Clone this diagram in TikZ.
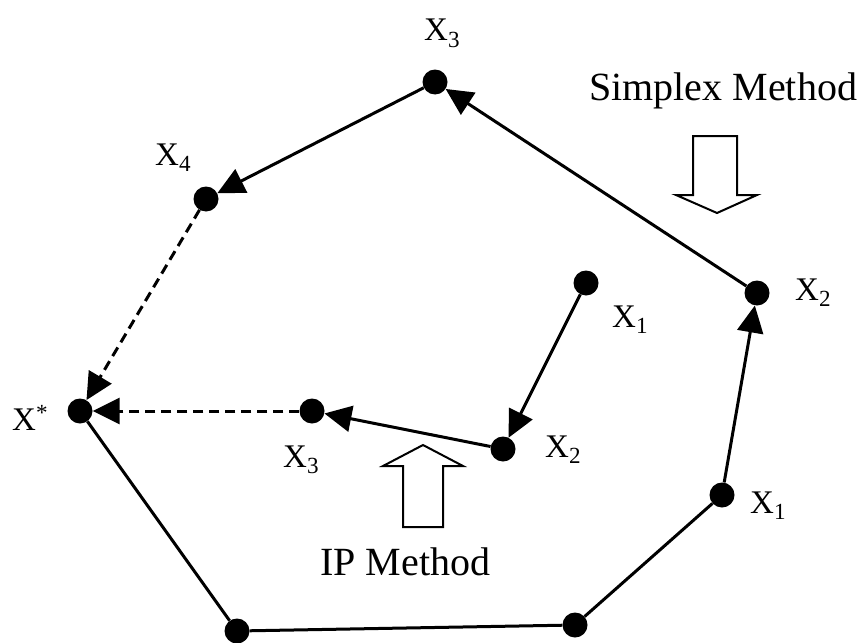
\documentclass[tikz,border=0pt]{standalone}
\usepackage{fontspec}
\setmainfont{Liberation Serif}
\usetikzlibrary{arrows.meta}
\tikzset{
  dot/.style={circle,fill=black,inner sep=0pt,minimum size=25pt},
  lbl/.style={anchor=base west,inner sep=0pt,font=\fontsize{33}{36}\selectfont},
  big/.style={anchor=base west,inner sep=0pt,font=\fontsize{40}{44}\selectfont},
  edge/.style={line width=3pt},
  arr/.style={edge,-{Triangle[length=27pt,width=26pt]}},
  darr/.style={arr,dash pattern=on 10pt off 6pt},
  hollow/.style={line width=2pt,fill=white,line join=miter}
}
\begin{document}
\begin{tikzpicture}[x=1pt,y=-1pt]
\useasboundingbox (0,0) rectangle (864,642);
% outer polygon vertices
\node[dot] (xs) at (80,411) {};
\node[dot] (bl) at (237,631) {};
\node[dot] (br) at (575,625) {};
\node[dot] (o1) at (722,495) {};
\node[dot] (o2) at (757,293) {};
\node[dot] (o3) at (435,82) {};
\node[dot] (o4) at (206,199) {};
% inner path
\node[dot] (i1) at (586,283) {};
\node[dot] (i2) at (503,449) {};
\node[dot] (i3) at (312,411) {};
% edges
\draw[edge] (xs) -- (bl);
\draw[edge] (bl) -- (br);
\draw[edge] (br) -- (o1);
\draw[arr] (o1) -- (o2);
\draw[arr] (o2) -- (o3);
\draw[arr] (o3) -- (o4);
\draw[darr] (o4) -- (xs);
\draw[arr] (i1) -- (i2);
\draw[arr] (i2) -- (i3);
\draw[darr] (i3) -- (xs);
% labels
\node[lbl] (lo3) at (424,41) {X\textsubscript{3}};
\node[lbl] (lo4) at (155,165) {X\textsubscript{4}};
\node[lbl] (lxs) at (12,430) {X\textsuperscript{*}};
\node[lbl] (lo2) at (795,300) {X\textsubscript{2}};
\node[lbl] (lo1) at (750,513) {X\textsubscript{1}};
\node[lbl] (li1) at (612,327) {X\textsubscript{1}};
\node[lbl] (li2) at (545,457) {X\textsubscript{2}};
\node[lbl] (li3) at (283,467) {X\textsubscript{3}};
\node[big] (simplex) at (589,100) {Simplex Method};
\node[big] (ip) at (320,575) {IP Method};
% hollow block arrows
\draw[hollow] (693,136) -- (737,136) -- (737,195) -- (757,195) -- (717,213) -- (676,195) -- (693,195) -- cycle;
\draw[hollow] (403,527) -- (443,527) -- (443,466) -- (463,466) -- (423,445) -- (383,466) -- (403,466) -- cycle;
\end{tikzpicture}
\end{document}
